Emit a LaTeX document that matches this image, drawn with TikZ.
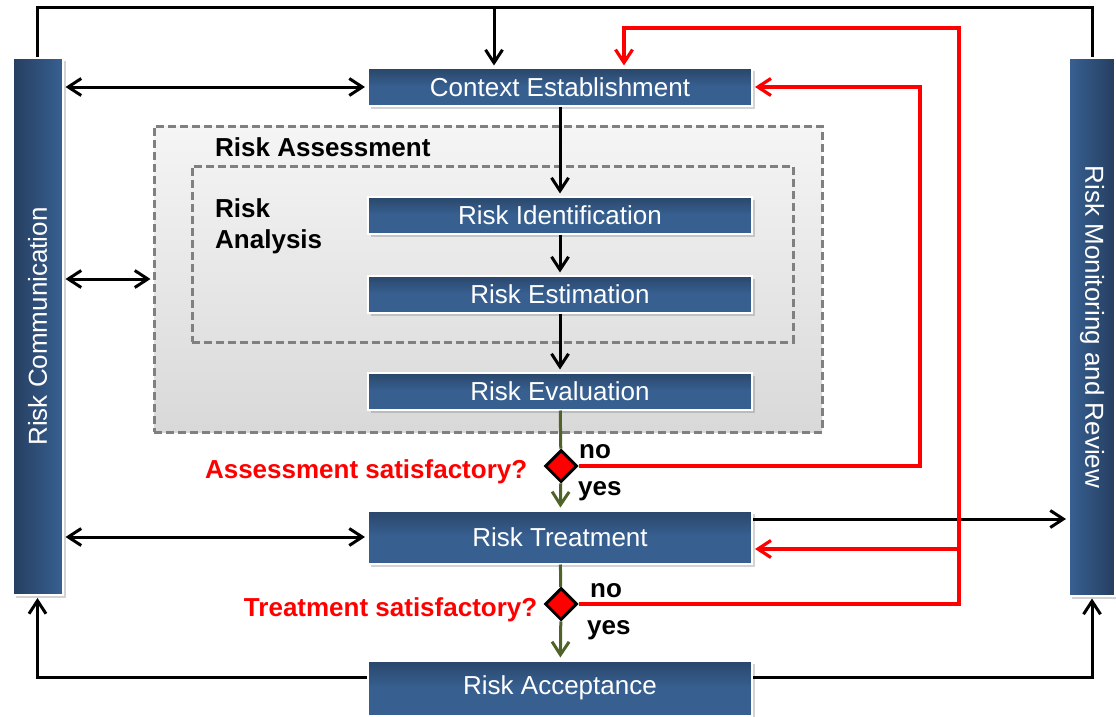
\documentclass[tikz,border=0pt]{standalone}
\usepackage{fontspec}
\setmainfont{Liberation Sans}
\usetikzlibrary{arrows.meta,positioning,shapes.geometric,shadows}
\definecolor{boxtop}{RGB}{42,70,106}
\definecolor{boxbot}{RGB}{55,96,145}
\definecolor{bardark}{RGB}{38,62,96}
\definecolor{barlight}{RGB}{55,96,146}
\definecolor{okgreen}{RGB}{79,98,40}
\definecolor{dashgray}{RGB}{128,128,128}
\tikzset{
    %Define standard arrow tip
    >={Straight Barb[length=13pt,width=17pt]},
    %Define style for process boxes
    stepbox/.style={
           rectangle,
           draw=white,
           line width=2pt,
           top color=boxtop,
           bottom color=boxbot,
           middle color=boxbot,
           text=white,
           minimum width=384pt,
           minimum height=37pt,
           inner sep=0pt,
           font=\fontsize{26}{30}\selectfont,
           drop shadow={shadow xshift=3pt,shadow yshift=-3pt,opacity=0.35}},
    %Define style for the side bars
    barbox/.style={
           rectangle,
           draw=white,
           line width=2pt,
           minimum width=50pt,
           minimum height=537pt,
           drop shadow={shadow xshift=3pt,shadow yshift=-3pt,opacity=0.35}},
    bartext/.style={text=white, inner sep=0pt, font=\fontsize{26}{30}\selectfont},
    %Define style for dashed groups
    groupbox/.style={
           rectangle,
           draw=dashgray,
           line width=3pt,
           dash pattern=on 8pt off 4pt},
    head/.style={inner sep=0pt, font=\bfseries\fontsize{26}{31}\selectfont},
    ask/.style={head, text=red},
    gate/.style={diamond, draw=black, fill=red, line width=3pt,
           minimum size=32pt, inner sep=0pt},
    % Define arrow styles
    wire/.style={line width=3pt},
    flow/.style={->, line width=3pt, shorten >=2pt},
    link/.style={<->, line width=3pt, shorten <=2pt, shorten >=2pt},
    back/.style={->, red, line width=3.2pt, shorten >=2pt},
    ok/.style={okgreen, line width=3pt}
}
\begin{document}
\begin{tikzpicture}[x=1pt, y=-1pt]
  \useasboundingbox (0,0) rectangle (1116,717);
  % groups
  \node[groupbox, top color=gray!8, bottom color=gray!30,
        minimum width=668pt, minimum height=306pt] (assess) at (488,279) {};
  \node[groupbox, minimum width=601pt, minimum height=176pt] (analysis) at (492.5,254) {};
  \node[head, anchor=west] (assesstitle) at (215,147) {Risk Assessment};
  \node[head, anchor=west, align=left] (analysistitle) at (215,226) {Risk\\Analysis};
  % side bars
  \node[barbox, left color=bardark, middle color=barlight, right color=barlight] (comm) at (37.5,326.5) {};
  \node[bartext, rotate=90] (commtext) at (comm) {Risk Communication};
  \node[barbox, minimum width=46pt, left color=barlight, middle color=barlight, right color=bardark] (monit) at (1092,327) {};
  \node[bartext, rotate=-90] (monittext) at (monit) {Risk Monitoring and Review};
  % process steps
  \node[stepbox] (ctx) at (560,87) {Context Establishment};
  \node[stepbox] (ident) at (560,215) {Risk Identification};
  \node[stepbox] (estim) at (560,294) {Risk Estimation};
  \node[stepbox] (evalu) at (560,391) {Risk Evaluation};
  \node[gate] (dA) at (561,466) {};
  \node[stepbox, minimum height=53pt] (treat) at (560,537) {Risk Treatment};
  \node[gate] (dB) at (561,604) {};
  \node[stepbox, minimum height=55pt] (accept) at (560,688) {Risk Acceptance};
  % decisions
  \node[ask, left=16pt of dA, yshift=-6pt] (askA) {Assessment satisfactory?};
  \node[ask, left=6pt of dB, yshift=-6pt] (askB) {Treatment satisfactory?};
  \node[head, anchor=west] (noA) at (579,452) {no};
  \node[head, anchor=west] (yesA) at (578,491) {yes};
  \node[head, anchor=west] (noB) at (590,591) {no};
  \node[head, anchor=west] (yesB) at (587,630) {yes};
  % main flow
  \draw[flow] (ctx) -- (ident);
  \draw[flow] (ident) -- (estim);
  \draw[flow] (estim) -- (evalu);
  \draw[ok] (evalu) -- (dA);
  \draw[ok, ->, shorten >=2pt] (dA) -- (treat);
  \draw[ok] (treat) -- (dB);
  \draw[ok, ->, shorten >=2pt] (dB) -- (accept);
  % communication links
  \draw[link] (comm.east |- ctx.west) -- (ctx.west);
  \draw[link] (comm.east |- assess.west) -- (assess.west);
  \draw[link] (comm.east |- treat.west) -- (treat.west);
  \coordinate (treatout) at ([yshift=18pt]treat.east);
  \draw[flow] (treatout) -- (treatout -| monit.west);
  % outer loop
  \coordinate (roof) at (0,8);
  \coordinate (floor) at (0,677);
  \coordinate (ctxin) at ([xshift=-66pt]ctx.north);
  \draw[wire] (comm.north) -- (comm.north |- roof) -- (monit.north |- roof) -- (monit.north);
  \draw[flow] (ctxin |- roof) -- (ctxin);
  \draw[flow] (accept.west |- floor) -| (comm.south);
  \draw[flow] (accept.east |- floor) -| (monit.south);
  % iterations
  \coordinate (loopA) at (920,87);
  \coordinate (loopB) at (959,28);
  \coordinate (ctxback) at (624,28);
  \coordinate (treatin) at ([yshift=-12pt]treat.east);
  \draw[back] (dA.east) -| (loopA) -- (ctx.east);
  \draw[back] (dB.east) -| (loopB) -- (ctxback) -- (ctxback |- ctx.north);
  \draw[back] (loopB |- treatin) -- (treatin);
\end{tikzpicture}
\end{document}
